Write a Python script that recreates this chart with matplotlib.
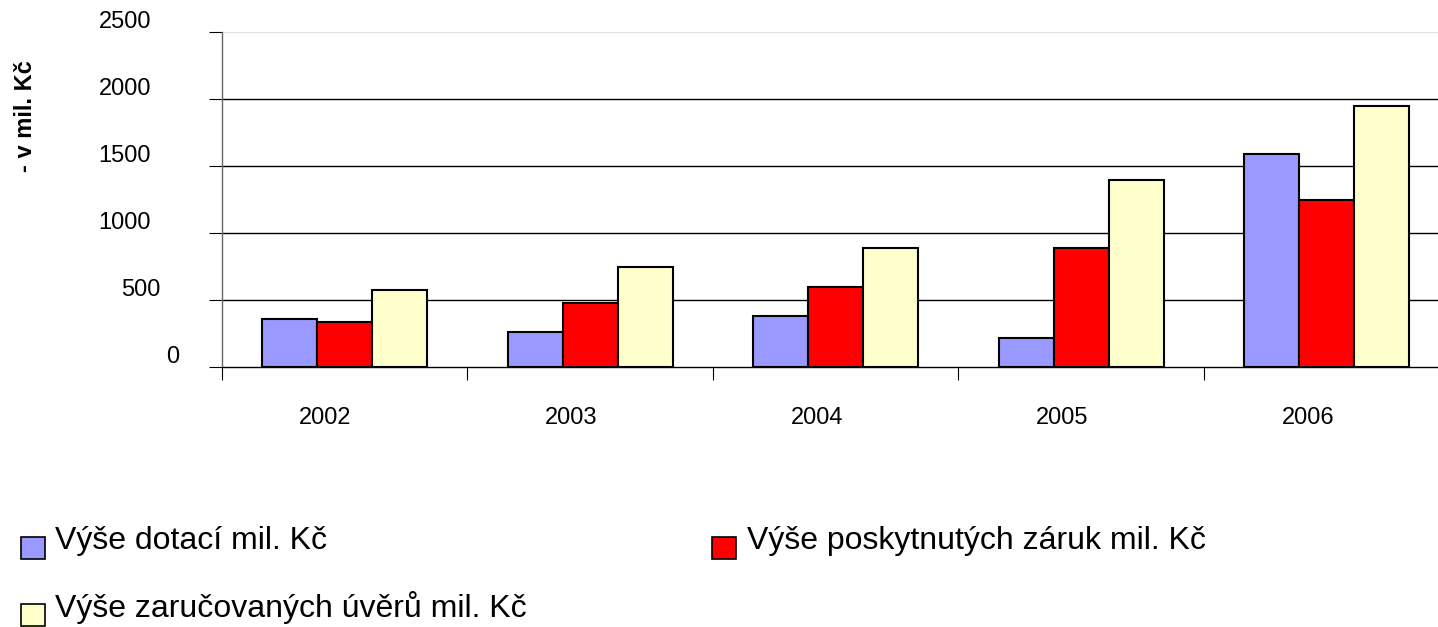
import matplotlib
matplotlib.use("Agg")
import matplotlib.pyplot as plt
import matplotlib.transforms as mtransforms
from matplotlib.patches import Patch, Rectangle
from matplotlib.legend_handler import HandlerPatch
import numpy as np

plt.rcParams["font.family"] = ["Liberation Sans", "DejaVu Sans"]

years = ["2002", "2003", "2004", "2005", "2006"]
dotace = [360, 263, 385, 216, 1589]
zaruky = [336, 480, 601, 890, 1248]
uvery = [577, 746, 890, 1395, 1950]

series_names = ["Výše dotací mil. Kč", "Výše poskytnutých záruk mil. Kč", "Výše zaručovaných úvěrů mil. Kč"]
colors = ["#9999ff", "#ff0000", "#ffffcc"]

y_ticks = [0, 500, 1000, 1500, 2000, 2500]
# pixel centres of y labels (they are not aligned in the original)
y_label_x = [172.5, 140.8, 124.8, 124.8, 124.8, 124.8]

W, H = 1438, 627
fig = plt.figure(figsize=(W / 100, H / 100), dpi=100)
ax = fig.add_axes([221.7 / W, 259.7 / H, 1228 / W, 335 / H])

x = np.arange(len(years))
bw = 0.224
for i, (vals, c) in enumerate(zip([dotace, zaruky, uvery], colors)):
    ax.bar(x + (i - 1) * bw, vals, bw, color=c, edgecolor="black", linewidth=1.5, zorder=3)

ax.set_xlim(-0.5, len(years) - 0.5)
ax.set_ylim(0, 2500)

# gridlines
for v in y_ticks[1:-1]:
    ax.axhline(v, color="black", linewidth=1.0, zorder=1)
ax.axhline(2500, color="#e6e6e6", linewidth=1.0, zorder=1)

for s in ["top", "right"]:
    ax.spines[s].set_visible(False)
ax.spines["left"].set_color("#666666")
ax.spines["left"].set_linewidth(1.0)
ax.spines["bottom"].set_color("black")
ax.spines["bottom"].set_linewidth(1.0)

ax.set_yticks(y_ticks)
ax.set_yticklabels([])
ax.set_xticks(np.arange(-0.5, len(years), 1.0))
ax.set_xticklabels([])
ax.tick_params(axis="both", direction="out", length=9.4, width=0.8, color="black")

# y labels
blend = mtransforms.blended_transform_factory(fig.transFigure, ax.transData)
ytr = mtransforms.offset_copy(blend, fig=fig, x=0, y=10.5, units="dots")
for v, px in zip(y_ticks, y_label_x):
    ax.text(px / W, v, str(v), transform=ytr, ha="center", va="center", fontsize=17, clip_on=False)

# x labels
xblend = mtransforms.blended_transform_factory(ax.transData, fig.transFigure)
xtr = mtransforms.offset_copy(xblend, fig=fig, x=-19, y=0, units="dots")
for xi, lab in zip(x, years):
    ax.text(xi, 1 - 417.7 / H, lab, transform=xtr, ha="center", va="center", fontsize=17, clip_on=False)

fig.text(26 / W, 1 - 116.5 / H, "- v mil. Kč", rotation=90, ha="center", va="center",
         fontsize=17, fontweight="bold")


# legend boxes sit a little below the text centre, like in the original
def low_box(legend, orig_handle, xdescent, ydescent, width, height, fontsize):
    return Rectangle((-xdescent, -ydescent - 0.3 * fontsize), width, height)


handles = [Patch(facecolor=c, edgecolor="black", linewidth=1.2) for c in colors]
order = [0, 2, 1]
fig.legend([handles[i] for i in order], [series_names[i] for i in order],
           ncol=2, loc="upper left", bbox_to_anchor=(20.7 / W, 1 - 526.5 / H),
           frameon=False, fontsize=23, handlelength=0.75, handleheight=0.69,
           handletextpad=0.33, labelspacing=1.08, columnspacing=5.8, borderpad=0,
           borderaxespad=0, handler_map={Patch: HandlerPatch(patch_func=low_box)})

fig.savefig("out.png", dpi=100)
